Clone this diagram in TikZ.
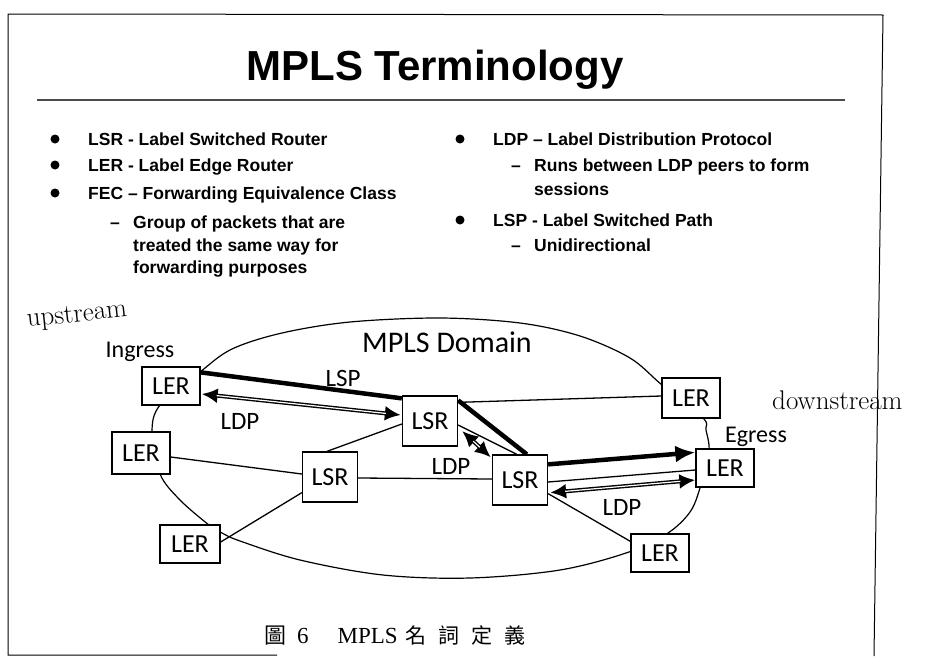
\documentclass[tikz,border=0pt]{standalone}
\usepackage{fontspec}
\newfontfamily\arial{Liberation Sans}[Ligatures=TeX]
\newfontfamily\gill{Carlito}
\newfontfamily\capser{Liberation Serif}
\newfontfamily\cjk{Noto Sans CJK TC}
\usetikzlibrary{arrows.meta,calc}

\begin{document}
\begin{tikzpicture}[x=1pt,y=-1pt,
  body/.style={font=\arial\bfseries\fontsize{17.5}{21}\selectfont,anchor=base west,inner sep=0pt},
  box/.style={draw,fill=white,line width=1.3pt,minimum width=58pt,minimum height=38pt,inner sep=0pt,
    font=\gill\fontsize{26}{26}\selectfont},
  lsrbox/.style={box,minimum width=55pt,minimum height=50pt},
  tag/.style={font=\gill\fontsize{25}{25}\selectfont,inner sep=0pt},
  link/.style={line width=1.3pt},
  lsp/.style={line width=4.5pt},
  ldp/.style={line width=4pt,{Latex[length=16pt,width=15pt]}-{Latex[length=16pt,width=15pt]}},
  ldpcore/.style={white,line width=1.2pt,shorten <=15pt,shorten >=15pt},
  hand/.style={font=\fontsize{27}{27}\selectfont,inner sep=0pt},
  dot/.style={fill=black}
]
\useasboundingbox (0,0) rectangle (931,656);
\fill[white] (0,0) rectangle (931,656);

% slide frame
\draw[line width=1pt] (277,655) -- (8,655) -- (8,14) -- (883,15) -- (874,656);

% heading
\node[font=\arial\bfseries\fontsize{42}{42}\selectfont,anchor=base,inner sep=0pt] (title) at (435,80) {MPLS Terminology};
\draw[line width=2pt,black!70] (37,100) -- (845,100);

% left column
\fill[dot] (55,139) circle (4.5pt);
\fill[dot] (55,165) circle (4.5pt);
\fill[dot] (55,193) circle (4.5pt);
\node[body] (lsr) at (88,145) {LSR - Label Switched Router};
\node[body] (ler) at (88,171) {LER - Label Edge Router};
\node[body] (fec) at (88,199) {FEC -- Forwarding Equivalence Class};
\node[body] (fecd) at (110,228) {--};
\node[body] (fec1) at (133,228) {Group of packets that are};
\node[body] (fec2) at (133,251) {treated the same way for};
\node[body] (fec3) at (133,273) {forwarding purposes};

% right column
\fill[dot] (460,139) circle (4.5pt);
\fill[dot] (460,220) circle (4.5pt);
\node[body] (ldp) at (493,145) {LDP -- Label Distribution Protocol};
\node[body] (ldpd) at (511,171) {--};
\node[body] (ldp1) at (534,171) {Runs between LDP peers to form};
\node[body] (ldp2) at (534,195) {sessions};
\node[body] (lspt) at (493,226) {LSP - Label Switched Path};
\node[body] (lspd) at (511,251) {--};
\node[body] (lsp1) at (534,251) {Unidirectional};

% handwritten notes
\node[hand,rotate=6] (up) at (77,316) {upstream};
\node[hand,anchor=west] (down) at (772,400) {downstream};

% MPLS domain outline
\draw[line width=1.2pt] plot[smooth cycle,tension=0.55] coordinates {
  (160,405) (152,433) (160,474) (180,500) (209,525) (222,533) (240,541) (300,560)
  (383,575) (470,578) (560,570) (629,552) (668,533) (690,512) (700,488) (709,452)
  (706,430) (703,418) (662,385) (630,358) (580,336) (520,323) (440,318) (350,322)
  (282,333) (232,349) (200,372)};

% routers
\node[box] (ing) at (171,386) {LER};
\node[box,minimum height=42pt] (ler2) at (141,453) {LER};
\node[box,minimum width=60pt] (bl) at (190,544) {LER};
\node[lsrbox] (lsr3) at (330,477) {LSR};
\node[lsrbox] (lsr1) at (430,421) {LSR};
\node[lsrbox] (lsr2) at (520,480) {LSR};
\node[box,minimum height=40pt] (tr) at (691,398) {LER};
\node[box] (egr) at (725,468) {LER};
\node[box] (br) at (660,553) {LER};

% physical links
\draw[link] ($(ler2.east)+(0,4)$) -- ($(lsr3.west)+(0,-3)$);
\draw[link] ($(bl.east)+(0,-2)$) -- ($(lsr3.south west)+(0,-10)$);
\draw[link] ($(lsr3.north)+(-3,0)$) -- ($(lsr1.west)+(0,3)$);
\draw[link] ($(lsr3.east)+(0,1)$) -- ($(lsr2.west)+(0,-1)$);
\draw[link] ($(lsr1.north east)+(0,7)$) -- ($(tr.west)+(0,-2)$);
\draw[link] ($(lsr1.east)+(0,4)$) -- ($(lsr2.north west)+(25,0)$);
\draw[link] ($(lsr2.east)+(0,2)$) -- ($(egr.west)+(0,2)$);
\draw[link] ($(lsr2.south east)+(0,-12)$) -- ($(br.north west)+(0,8)$);

% label switched path
\draw[lsp] ($(ing.north east)+(0,6)$) -- ($(lsr1.north west)+(0,3)$);
\draw[lsp] ($(lsr1.north east)+(0,5)$) -- ($(lsr2.north west)+(35,0)$);
\draw[lsp,-{Latex[length=20pt,width=17pt]}] ($(lsr2.north east)+(0,10)$) -- ($(egr.north west)+(0,4)$);

% LDP sessions
\draw[ldp] ($(ing.east)+(1,8)$) -- ($(lsr1.west)+(-1,-6)$);
\draw[ldpcore] ($(ing.east)+(1,8)$) -- ($(lsr1.west)+(-1,-6)$);
\draw[ldp] ($(lsr1.east)+(4,10)$) -- ($(lsr2.north west)+(-1,3)$);
\draw[ldpcore] ($(lsr1.east)+(4,10)$) -- ($(lsr2.north west)+(-1,3)$);
\draw[ldp] ($(lsr2.south east)+(2,-13)$) -- ($(egr.west)+(0,12)$);
\draw[ldpcore] ($(lsr2.south east)+(2,-13)$) -- ($(egr.west)+(0,12)$);

% diagram labels
\node[font=\gill\fontsize{30}{30}\selectfont,inner sep=0pt] (dom) at (447,342) {MPLS Domain};
\node[tag,font=\gill\fontsize{24}{24}\selectfont] (ingl) at (140,352) {Ingress};
\node[tag,font=\gill\fontsize{24}{24}\selectfont] (egl) at (756,437) {Egress};
\node[tag] (lspl) at (343,378) {LSP};
\node[tag] (ldpa) at (240,421) {LDP};
\node[tag] (ldpb) at (451,466) {LDP};
\node[tag] (ldpc) at (622,507) {LDP};

% caption
\node[anchor=base west,inner sep=0pt] (cap) at (264,643)
  {{\cjk\fontsize{22}{22}\selectfont 圖}\hspace{11pt}{\capser\fontsize{23}{23}\selectfont 6}\hspace{29pt}{\capser\fontsize{23}{23}\selectfont MPLS}\hspace{8pt}{\cjk\fontsize{21}{21}\selectfont 名\hspace{12pt}詞\hspace{12pt}定\hspace{12pt}義}};
\end{tikzpicture}
\end{document}
